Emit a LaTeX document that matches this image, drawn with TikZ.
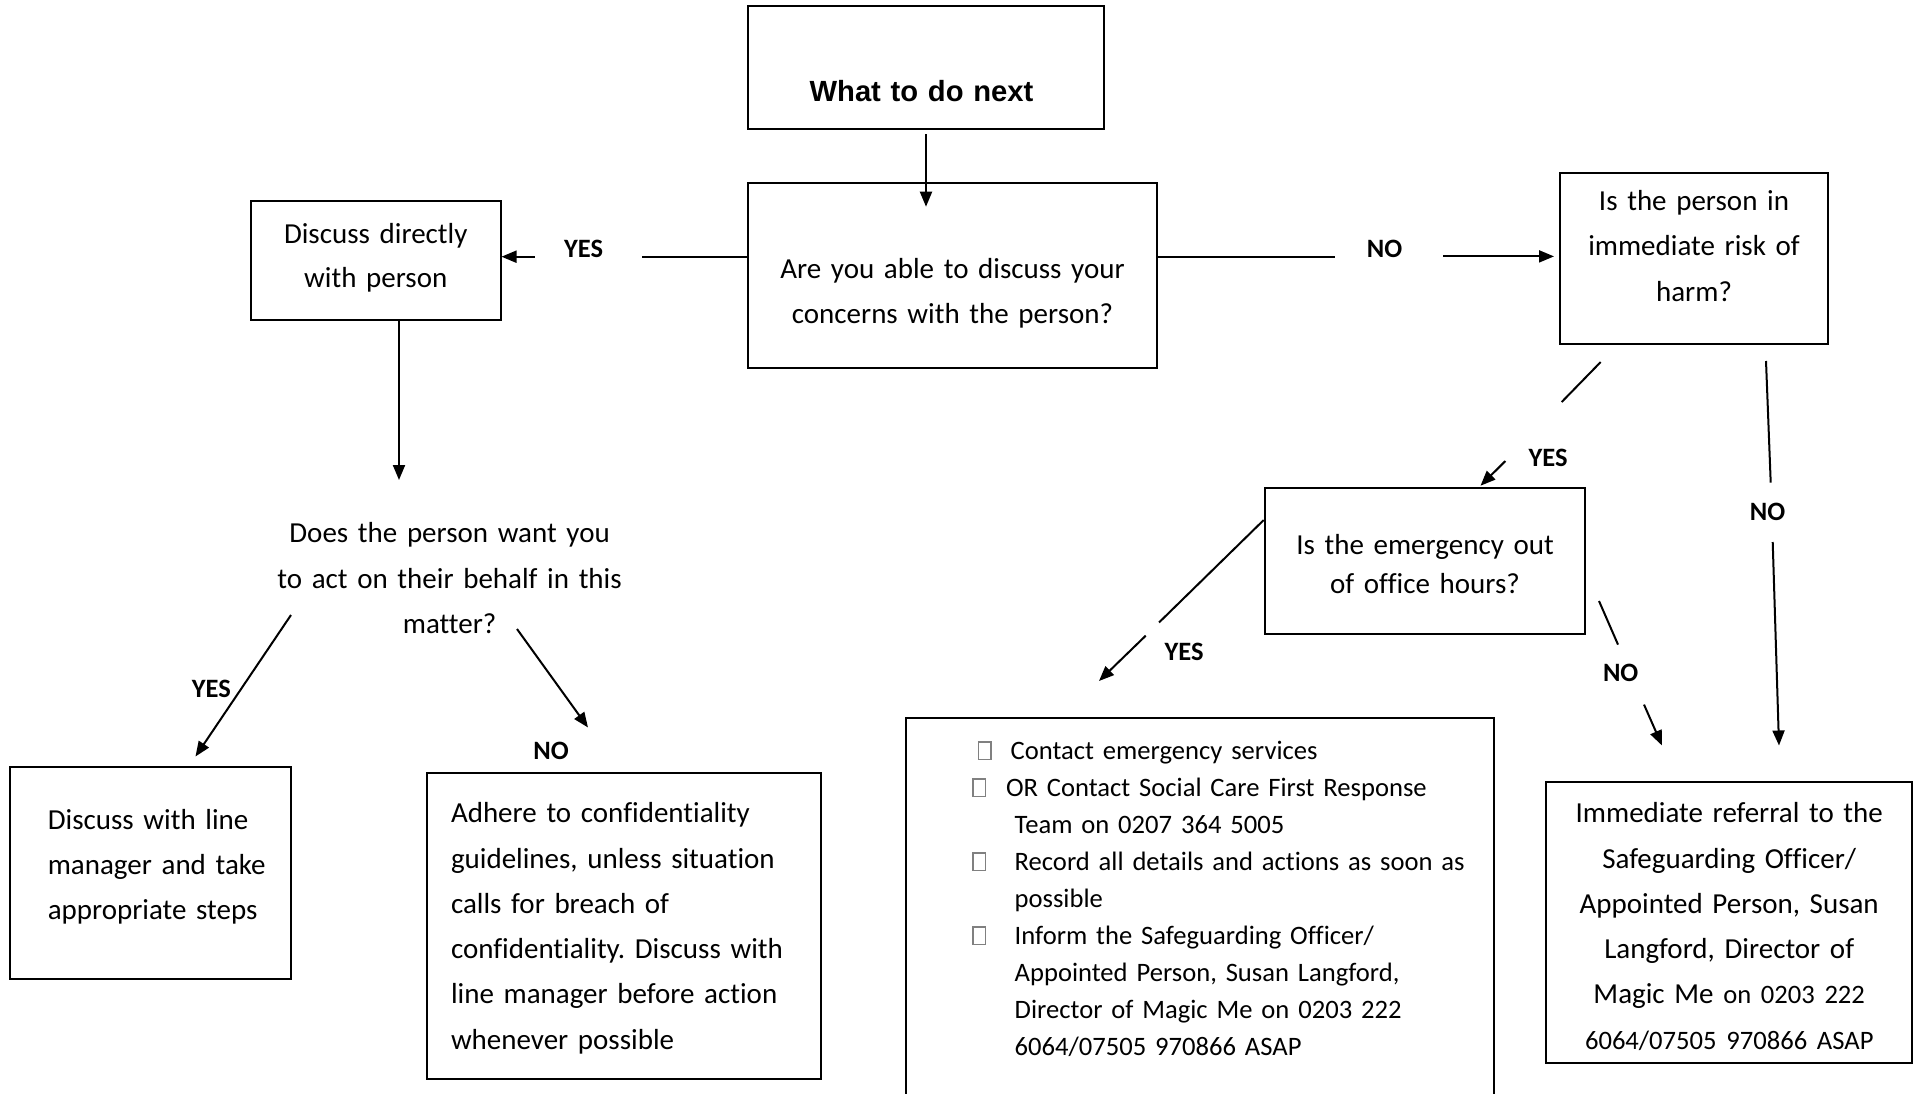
\documentclass[tikz,border=0pt]{standalone}
\usepackage{fontspec}
\setmainfont{Carlito}[WordSpace=0.78, Ligatures=NoCommon]
\newfontfamily\headfont{Liberation Sans}
\usetikzlibrary{arrows.meta}
\frenchspacing

\newcommand{\bodysize}{\fontsize{29}{45.3}\selectfont}
\newcommand{\smallsize}{\fontsize{26.6}{37}\selectfont}
\newcommand{\sqbullet}{{\color{gray}\fboxsep=0pt\fboxrule=1.4pt\fbox{\rule{0pt}{16.5pt}\hspace{11pt}}}}

\begin{document}
\begin{tikzpicture}[x=1pt,y=-1pt,
  box/.style 2 args={draw, line width=2pt, inner sep=0pt, minimum width=#1, text width=#1, minimum height=#2, align=center, font=\bodysize},
  leftpad/.style={align=left, execute at begin node={\leftskip=#1\relax}},
  lbl/.style={font=\fontsize{26.5}{30}\selectfont\bfseries, inner sep=0pt, text height=17pt, text depth=0pt},
  line/.style={line width=2pt},
  arr/.style={line width=2pt, -{Triangle[length=15pt,width=12pt]}}]
\useasboundingbox (0,0) rectangle (1914,1094);

%Boxes
\node[box={356pt}{123.5pt}, text height=67.9pt, text depth=0pt, font=\headfont\bfseries\fontsize{29.2}{34}\selectfont] (title) at (926,67.75) {\hspace*{-9pt}What to do next};
\node[box={409.6pt}{185.6pt}, text height=5.6pt, text depth=0pt] (q) at (952.5,275.5) {Are you able to discuss your\\concerns with the person?};
\node[box={249.5pt}{119.6pt}, text height=0pt, text depth=34.4pt, font=\fontsize{29}{44}\selectfont] (disc) at (375.75,260.5) {Discuss directly\\with person};
\node[box={268pt}{171pt}, text height=0pt, text depth=95.4pt] (risk) at (1694,258.2) {Is the person in\\immediate risk of\\harm?};
\node[box={320.7pt}{146.4pt}, text height=0pt, text depth=13pt, font=\fontsize{29}{38.6}\selectfont] (emerg) at (1425,561.1) {Is the emergency out\\of office hours?};
\node[box={281.4pt}{212pt}, leftpad=38.2pt, text height=0pt, text depth=87.4pt] (lm) at (150.3,873) {Discuss with line\\manager and take\\appropriate steps};
\node[box={393.6pt}{305.7pt}, leftpad=24pt, text height=0pt, text depth=207pt] (adhere) at (623.8,926.2) {Adhere to confidentiality\\guidelines, unless situation\\calls for breach of\\confidentiality. Discuss with\\line manager before action\\whenever possible};
\node[box={588pt}{382pt}, leftpad=66.4pt, text height=0pt, text depth=300pt, font=\smallsize] (list) at (1200,909) {\hspace*{5.5pt}\sqbullet\hspace{19pt}Contact emergency services\\
  \sqbullet\hspace{19.8pt}OR Contact Social Care First Response\\
  \hspace*{42.3pt}Team on 0207 364 5005\\
  \sqbullet\hspace{28.5pt}Record all details and actions as soon as\\
  \hspace*{42.3pt}possible\\
  \sqbullet\hspace{28.5pt}Inform the Safeguarding Officer/\\
  \hspace*{42.3pt}Appointed Person, Susan Langford,\\
  \hspace*{42.3pt}Director of Magic Me on 0203 222\\
  \hspace*{42.3pt}6064/07505 970866 ASAP};
\node[box={366.3pt}{281.6pt}, text height=0pt, text depth=199.6pt] (referral) at (1729.2,922.5) {Immediate referral to the\\Safeguarding Officer/\\Appointed Person, Susan\\Langford, Director of\\Magic Me {\smallsize on 0203 222}\\{\smallsize 6064/07505 970866 ASAP}};

% Text Node
\node[font=\bodysize, text width=360pt, align=center, anchor=base, inner sep=0pt] (does) at (449.6,542.7) {Does the person want you\\to act on their behalf in this\\matter?};

% Text Node
\node[lbl] (yes1) at (583.5,249.5) {YES};
\node[lbl] (no1) at (1384.5,249) {NO};
\node[lbl] (yes2) at (1548,458) {YES};
\node[lbl] (no2) at (1767.6,512) {NO};
\node[lbl] (yes3) at (1184,652) {YES};
\node[lbl] (no3) at (1620.7,673) {NO};
\node[lbl] (yes4) at (211.3,688.7) {YES};
\node[lbl] (no4) at (551,751) {NO};

% Line ends
\coordinate (q-in) at (926,206.7);
\coordinate (yes1-e) at (642,256.7);
\coordinate (yes1-w) at (534.7,256.7);
\coordinate (no1-w) at (1335,256.7);
\coordinate (no1-e) at (1443,256.4);
\coordinate (does-n) at (399,480);
\coordinate (does-sw) at (291,615);
\coordinate (lm-in) at (195.5,756.5);
\coordinate (does-se) at (517,629);
\coordinate (adhere-in) at (588,727.5);
\coordinate (risk-sw) at (1600.7,362);
\coordinate (yes2-ne) at (1561.7,402);
\coordinate (yes2-sw) at (1505.4,461);
\coordinate (emerg-in) at (1480.5,485.7);
\coordinate (risk-s) at (1766,361);
\coordinate (no2-n) at (1770.7,482.6);
\coordinate (no2-s) at (1772.7,542);
\coordinate (referral-in) at (1779,745.5);
\coordinate (yes3-ne) at (1159,622.5);
\coordinate (yes3-sw) at (1145.7,635.7);
\coordinate (list-in) at (1099,681);
\coordinate (emerg-se) at (1599,601);
\coordinate (no3-n) at (1618,644.6);
\coordinate (no3-s) at (1644,704.6);
\coordinate (referral-in2) at (1662,745.5);

%Straight Lines
\draw[arr, shorten <=4pt] (title) -- (q-in);
\draw[line] (q.west |- yes1-e) -- (yes1-e);
\draw[arr] (yes1-w) -- (disc.east |- yes1-w);
\draw[line] (q.east |- no1-w) -- (no1-w);
\draw[arr, shorten >=5pt] (no1-e) -- (risk.west |- no1-e);
\draw[arr] (disc.south -| does-n) -- (does-n);
\draw[arr] (does-sw) -- (lm-in);
\draw[arr] (does-se) -- (adhere-in);
\draw[line] (risk-sw) -- (yes2-ne);
\draw[arr] (yes2-sw) -- (emerg-in);
\draw[line] (risk-s) -- (no2-n);
\draw[arr] (no2-s) -- (referral-in);
\draw[line] ([yshift=41pt]emerg.west) -- (yes3-ne);
\draw[arr] (yes3-sw) -- (list-in);
\draw[line] (emerg-se) -- (no3-n);
\draw[arr] (no3-s) -- (referral-in2);

\end{tikzpicture}
\end{document}
